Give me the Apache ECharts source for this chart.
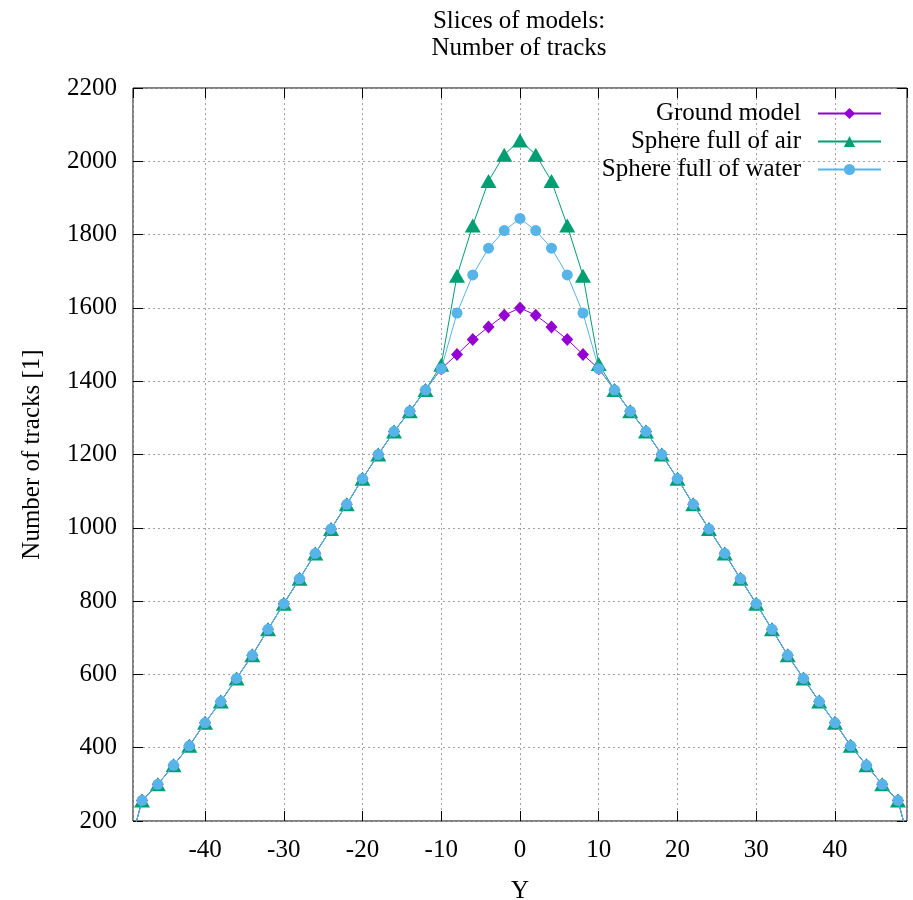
<!DOCTYPE html>
<html>
<head>
<meta charset="utf-8">
<script src="https://cdn.jsdelivr.net/npm/echarts@6.0.0/dist/echarts.min.js"></script>
<style>
  html, body { margin: 0; padding: 0; background: #fff; }
  #chart { width: 913px; height: 900px; }
</style>
</head>
<body>
<div id="chart"></div>
<script>
// Slice positions along Y
const positions = [-50, -48, -46, -44, -42, -40, -38, -36, -34, -32, -30, -28, -26, -24, -22, -20, -18, -16, -14, -12, -10, -8, -6, -4, -2, 0,
                   2, 4, 6, 8, 10, 12, 14, 16, 18, 20, 22, 24, 26, 28, 30, 32, 34, 36, 38, 40, 42, 44, 46, 48, 50];

// Number of tracks per slice
const groundModel = [96, 256, 300, 352, 405, 468, 526, 589, 652, 723, 793, 861, 930, 997, 1064, 1134, 1200, 1263, 1318, 1376, 1434, 1473, 1514, 1548, 1580, 1600,
                     1580, 1548, 1514, 1473, 1434, 1376, 1318, 1263, 1200, 1134, 1064, 997, 930, 861, 793, 723, 652, 589, 526, 468, 405, 352, 300, 256, 96];
const sphereAir = [96, 256, 300, 352, 405, 468, 526, 589, 652, 723, 793, 861, 930, 997, 1064, 1134, 1200, 1263, 1318, 1376, 1445, 1688, 1825, 1946, 2018, 2057,
                   2018, 1946, 1825, 1688, 1447, 1376, 1318, 1263, 1200, 1134, 1064, 997, 930, 861, 793, 723, 652, 589, 526, 468, 405, 352, 300, 256, 96];
const sphereWater = [96, 256, 300, 352, 405, 468, 526, 589, 652, 723, 793, 861, 930, 997, 1064, 1134, 1200, 1263, 1318, 1376, 1434, 1586, 1690, 1763, 1811, 1844,
                     1811, 1763, 1690, 1586, 1434, 1376, 1318, 1263, 1200, 1134, 1064, 997, 930, 861, 793, 723, 652, 589, 526, 468, 405, 352, 300, 256, 96];

const seriesNames = ['Ground model', 'Sphere full of air', 'Sphere full of water'];
const seriesColors = ['#9400d3', '#009e73', '#56b4e9'];

const FONT = 'Liberation Serif';
const pairs = vals => positions.map((x, i) => [x, vals[i]]);

const gridLine = { show: true, lineStyle: { color: '#a0a0a0', type: [2, 3], width: 1 } };
const innerTick = { show: true, inside: true, length: 10, lineStyle: { color: '#000', width: 1 } };
const labelFont = { fontFamily: FONT, fontSize: 25, color: '#000' };
const noLine = { show: false, onZero: false };

const chart = echarts.init(document.getElementById('chart'), null, { renderer: 'canvas' });

chart.setOption({
  animation: false,
  backgroundColor: '#fff',
  title: {
    text: 'Slices of models:\nNumber of tracks',
    left: 514,
    top: 3,
    textAlign: 'center',
    textStyle: { fontFamily: FONT, fontSize: 25, fontWeight: 'normal', color: '#000', lineHeight: 27 }
  },
  legend: {
    data: seriesNames,
    orient: 'vertical',
    align: 'right',
    right: 26,
    top: 96,
    itemWidth: 63,
    itemHeight: 14,
    itemGap: 3,
    textStyle: { fontFamily: FONT, fontSize: 25, color: '#000', lineHeight: 25, padding: [0, 12, 0, 0] }
  },
  grid: {
    left: 133, right: 6, top: 88, bottom: 79,
    containLabel: false, outerBoundsMode: 'none',
    show: true, borderColor: '#000', borderWidth: 1, backgroundColor: 'transparent'
  },
  xAxis: [
    {
      type: 'value', position: 'bottom', min: -49.15, max: 49.15, splitNumber: 10,
      axisLine: noLine, axisTick: innerTick,
      axisLabel: Object.assign({ margin: 17, showMinLabel: false, showMaxLabel: false }, labelFont),
      splitLine: gridLine,
      name: 'Y', nameLocation: 'middle', nameGap: 58,
      nameTextStyle: labelFont
    },
    {
      type: 'value', position: 'top', min: -49.15, max: 49.15, splitNumber: 10,
      axisLine: noLine, axisTick: innerTick,
      axisLabel: { show: false }, splitLine: { show: false }
    }
  ],
  yAxis: [
    {
      type: 'value', position: 'left', min: 200, max: 2200, interval: 200,
      axisLine: noLine, axisTick: innerTick,
      axisLabel: Object.assign({ margin: 16, formatter: v => String(v) }, labelFont),
      splitLine: gridLine,
      name: 'Number of tracks [1]', nameLocation: 'middle', nameGap: 88,
      nameTextStyle: labelFont
    },
    {
      type: 'value', position: 'right', min: 200, max: 2200, interval: 200,
      axisLine: noLine, axisTick: innerTick,
      axisLabel: { show: false }, splitLine: { show: false }
    }
  ],
  series: [
    {
      name: seriesNames[0], type: 'line', data: pairs(groundModel),
      symbol: 'diamond', symbolSize: [12, 13], showAllSymbol: true, clip: true,
      lineStyle: { width: 1, color: seriesColors[0] }, itemStyle: { color: seriesColors[0] }, z: 2
    },
    {
      name: seriesNames[1], type: 'line', data: pairs(sphereAir),
      symbol: 'triangle', symbolSize: [16, 14], showAllSymbol: true, clip: true,
      lineStyle: { width: 1, color: seriesColors[1] }, itemStyle: { color: seriesColors[1] }, z: 3
    },
    {
      name: seriesNames[2], type: 'line', data: pairs(sphereWater),
      symbol: 'circle', symbolSize: 11, showAllSymbol: true, clip: true,
      lineStyle: { width: 1, color: seriesColors[2] }, itemStyle: { color: seriesColors[2] }, z: 4
    }
  ]
});
</script>
</body>
</html>
